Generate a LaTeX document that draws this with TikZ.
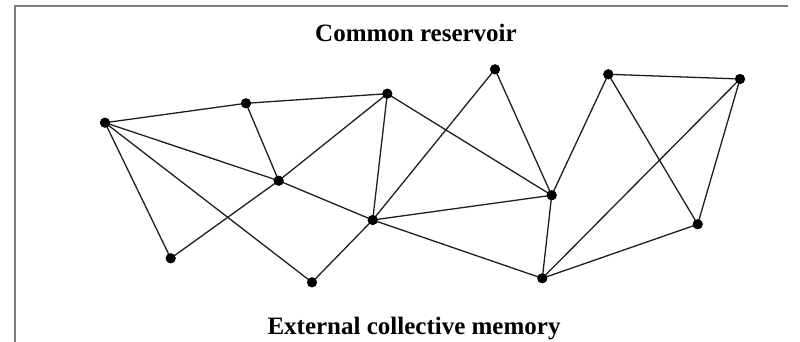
\documentclass[tikz,border=0pt]{standalone}
\usepackage{fontspec}
\setmainfont{Liberation Serif}
\definecolor{framegray}{RGB}{125,125,125}
\definecolor{edgeink}{RGB}{30,30,30}
\begin{document}
\begin{tikzpicture}[x=1pt,y=-1pt,
  dot/.style={circle,fill=black,inner sep=0pt,minimum size=10pt},
  link/.style={draw=edgeink,line width=1.3pt},
  frameline/.style={draw=framegray,line width=2pt},
  caption/.style={font=\bfseries\fontsize{25}{30}\selectfont,anchor=base,inner sep=0pt}]
\useasboundingbox (0,0) rectangle (800,342);
% open frame: top and left rules
\coordinate (fTL) at (15,6);
\coordinate (fTR) at (788,6);
\coordinate (fBL) at (15,342);
\draw[frameline] (fBL) -- (fTL) -- (fTR);
% captions
\node[caption] (top) at (416,42) {Common reservoir};
\node[caption] (bottom) at (414,334) {External collective memory};
% network vertices
\node[dot] (A) at (105,122.7) {};
\node[dot] (B) at (246,103.3) {};
\node[dot] (C) at (387.3,93.7) {};
\node[dot] (D) at (278.7,180.7) {};
\node[dot] (E) at (372.7,220) {};
\node[dot] (F) at (170.7,258.3) {};
\node[dot] (G) at (312,282.3) {};
\node[dot] (H) at (495,69.3) {};
\node[dot] (I) at (551.7,195.3) {};
\node[dot] (J) at (542.3,278.3) {};
\node[dot] (K) at (608.3,74.3) {};
\node[dot] (L) at (740,79) {};
\node[dot] (M) at (697.7,224.3) {};
% network edges
\foreach \u/\v in {A/B,B/C,A/D,D/E,B/D,D/C,D/F,A/F,A/G,G/E,E/C,C/I,E/H,H/I,E/I,E/J,I/J,I/K,K/L,K/M,L/M,L/J,J/M}
  \draw[link] (\u.center) -- (\v.center);
% redraw dots over the edges
\foreach \n in {A,B,C,D,E,F,G,H,I,J,K,L,M}
  \fill (\n.center) circle (5pt);
\end{tikzpicture}
\end{document}
